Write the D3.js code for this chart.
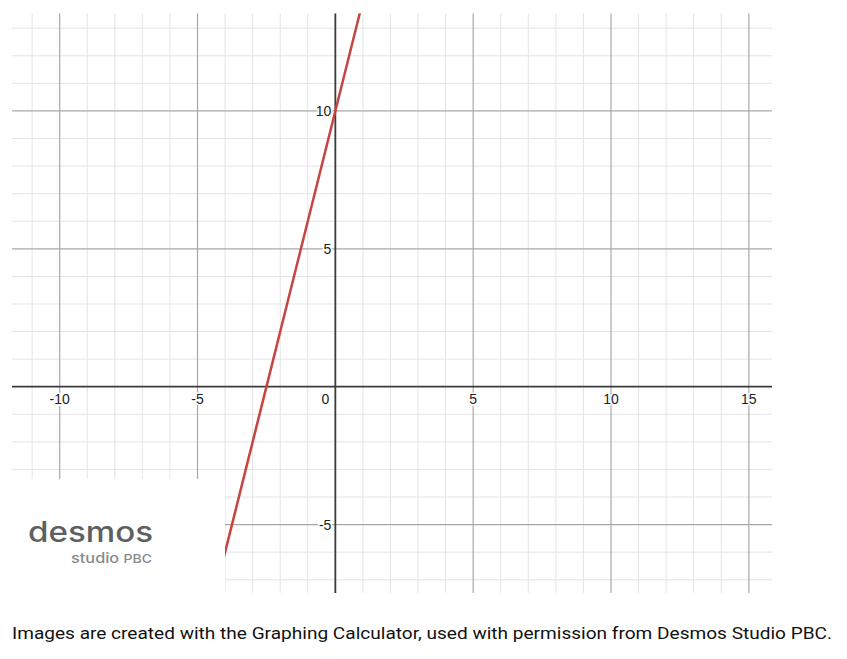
<!DOCTYPE html>
<html><head><meta charset="utf-8">
<script src="https://cdn.jsdelivr.net/npm/d3@7"></script>
<style>
html,body{margin:0;padding:0;background:#fff;}
svg{display:block;}
</style></head>
<body>
<script>
// ---- data ----
const xDomain = [-11.73, 15.84];
const yDomain = [13.54, -7.48];
const xTickLabels = [-10, -5, 0, 5, 10, 15];
const yTickLabels = [-5, 5, 10];
const lineX = [-4.4, 0.9];
const lineY = [-7.6, 13.6];
const caption = "Images are created with the Graphing Calculator, used with permission from Desmos Studio PBC.";

const W = 847, H = 659;
const svg = d3.select("body").append("svg").attr("width", W).attr("height", H);

const x = d3.scaleLinear().domain(xDomain).range([12, 772]);
const y = d3.scaleLinear().domain(yDomain).range([13.3, 593]);

const minorX = d3.range(Math.ceil(xDomain[0]), Math.floor(xDomain[1]) + 1);
const minorY = d3.range(Math.ceil(yDomain[1]), Math.floor(yDomain[0]) + 1);

svg.append("defs").append("clipPath").attr("id", "plot")
  .append("rect").attr("x", 12).attr("y", 13.3).attr("width", 760).attr("height", 579.7);

const g = svg.append("g").attr("clip-path", "url(#plot)");

// minor grid
g.selectAll(".mx").data(minorX.filter(d => d % 5 !== 0)).join("line")
  .attr("x1", d => x(d)).attr("x2", d => x(d)).attr("y1", 13.3).attr("y2", 593)
  .attr("stroke", "#e4e4e4").attr("stroke-width", 1);
g.selectAll(".my").data(minorY.filter(d => d % 5 !== 0)).join("line")
  .attr("y1", d => y(d)).attr("y2", d => y(d)).attr("x1", 12).attr("x2", 772)
  .attr("stroke", "#e4e4e4").attr("stroke-width", 1);
// major grid
g.selectAll(".Mx").data(minorX.filter(d => d % 5 === 0 && d !== 0)).join("line")
  .attr("x1", d => x(d)).attr("x2", d => x(d)).attr("y1", 13.3).attr("y2", 593)
  .attr("stroke", "#a8a8a8").attr("stroke-width", 1.2);
g.selectAll(".My").data(minorY.filter(d => d % 5 === 0 && d !== 0)).join("line")
  .attr("y1", d => y(d)).attr("y2", d => y(d)).attr("x1", 12).attr("x2", 772)
  .attr("stroke", "#a8a8a8").attr("stroke-width", 1.2);
// axes
g.append("line").attr("x1", x(0)).attr("x2", x(0)).attr("y1", 13.3).attr("y2", 593)
  .attr("stroke", "#3a3a3a").attr("stroke-width", 1.8);
g.append("line").attr("y1", y(0)).attr("y2", y(0)).attr("x1", 12).attr("x2", 772)
  .attr("stroke", "#3a3a3a").attr("stroke-width", 1.8);

// line
g.append("path")
  .datum(lineX.map((v, i) => [v, lineY[i]]))
  .attr("d", d3.line().x(d => x(d[0])).y(d => y(d[1])))
  .attr("fill", "none").attr("stroke", "#c74440").attr("stroke-width", 2.5);

// labels
const lab = svg.append("g").attr("font-family", "Arial, 'Liberation Sans', sans-serif")
  .attr("font-size", 14).attr("fill", "#222")
  .attr("stroke", "#fff").attr("stroke-width", 3).attr("paint-order", "stroke")
  .attr("stroke-linejoin", "round");
lab.selectAll(".xl").data(xTickLabels).join("text")
  .attr("x", d => d === 0 ? x(0) - 6 : x(d))
  .attr("y", y(0) + 17.5)
  .attr("text-anchor", d => d === 0 ? "end" : "middle")
  .text(d => d < 0 ? "-" + Math.abs(d) : d);
lab.selectAll(".yl").data(yTickLabels).join("text")
  .attr("x", x(0) - 4)
  .attr("y", d => y(d) + 5)
  .attr("text-anchor", "end")
  .text(d => d < 0 ? "-" + Math.abs(d) : d);

// logo box
svg.append("rect").attr("x", 0).attr("y", 479).attr("width", 225).attr("height", 116).attr("fill", "#fff");
svg.append("text").attr("x", 28).attr("y", 542)
  .attr("font-family", "Inter, 'Open Sans', sans-serif").attr("font-size", 28).attr("font-weight", 500)
  .attr("fill", "#5f5f5f").attr("textLength", 125).attr("lengthAdjust", "spacingAndGlyphs")
  .text("desmos");
const st = svg.append("text").attr("x", 71).attr("y", 562.5)
  .attr("font-family", "Inter, 'Open Sans', sans-serif").attr("font-size", 14).attr("font-weight", 500)
  .attr("fill", "#8a8a8a").attr("textLength", 81).attr("lengthAdjust", "spacingAndGlyphs");
st.append("tspan").text("studio ");
st.append("tspan").attr("font-size", 12).text("PBC");

// caption
svg.append("text").attr("x", 12).attr("y", 639)
  .attr("font-family", "Roboto, sans-serif").attr("font-size", 17).attr("fill", "#111")
  .attr("textLength", 820).attr("lengthAdjust", "spacingAndGlyphs")
  .text(caption);
</script>
</body></html>
